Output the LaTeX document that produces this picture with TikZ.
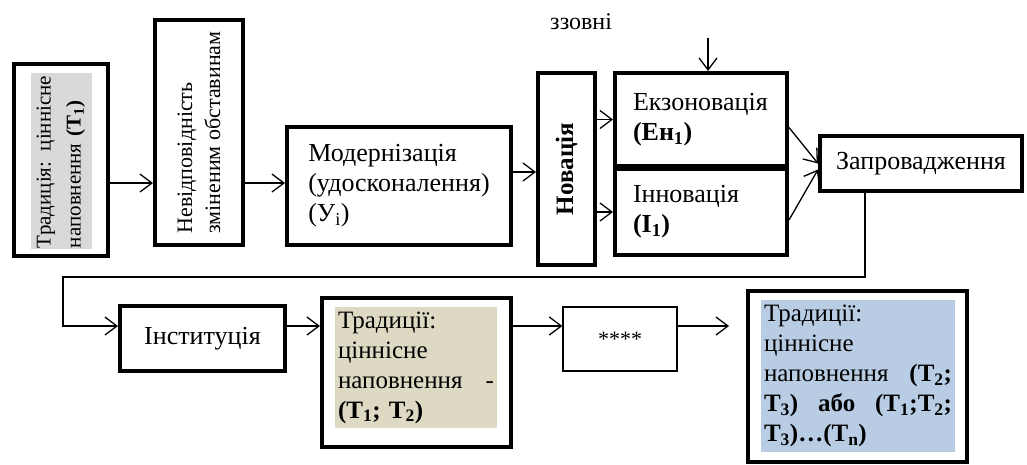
\documentclass[tikz,border=0pt]{standalone}
\usepackage{fontspec}
\setmainfont{Liberation Serif}
\usetikzlibrary{arrows.meta}

\begin{document}
\begin{tikzpicture}[x=1pt, y=-1pt,
    box/.style={draw, line width=4pt, inner sep=0pt},
    txt/.style={font=\fontsize{26}{30}\selectfont},
    arr/.style={line width=1.3pt, -{Straight Barb[length=12pt, width=18pt]}}]
    % Define colors
    \definecolor{tradgray}{RGB}{217, 217, 217}
    \definecolor{tradbeige}{RGB}{221, 217, 195}
    \definecolor{tradblue}{RGB}{184, 204, 228}

    \useasboundingbox (0, 0) rectangle (1027, 464);

    % Upper row
    \node[box, minimum width=94, minimum height=192] (trad) at (61, 160) {};
    \node[fill=tradgray, rotate=90, align=left, text width=174, inner sep=1pt, minimum height=61,
        font=\fontsize{21}{30}\selectfont] (tradtxt) at (61, 161)
        {Традиція: ціннісне\\наповнення \textbf{(T\textsubscript{1})}};

    \node[box, minimum width=88, minimum height=225] (nevid) at (199, 132.5) {};
    \node[rotate=90, align=left, font=\fontsize{22}{28}\selectfont] (nevidtxt) at (199, 132.5)
        {Невідповідність\\зміненим обставинам};

    \node[box, txt, minimum width=224, minimum height=118, align=left] (modern) at (399, 186)
        {Модернізація\\(удосконалення)\\(У\textsubscript{i})};

    \node[box, minimum width=57, minimum height=192] (novac) at (566.5, 169) {};
    \node[rotate=90, font=\fontsize{25}{30}\selectfont\bfseries] (novactxt) at (566.5, 169) {Новація};

    \node[box, txt, minimum width=172, minimum height=93, text width=136, align=left] (ekzo) at (701, 119.5)
        {Екзоновація\\\textbf{(Ен\textsubscript{1})}};
    \node[box, txt, minimum width=172, minimum height=86, text width=136, align=left] (innov) at (701, 212)
        {Інновація\\\textbf{(I\textsubscript{1})}};

    \node[box, txt, minimum width=202, minimum height=55] (zapr) at (921, 163.5) {Запровадження};

    % Input from outside
    \node[font=\fontsize{24}{28}\selectfont] (zzovni) at (581, 22) {ззовні};
    \coordinate (zzarr) at (708, 38);

    % Lower row
    \node[box, txt, minimum width=165, minimum height=65] (instit) at (202.5, 338.5) {Інституція};

    \node[box, minimum width=189, minimum height=149] (tradb) at (416.5, 372.5) {};
    \node[fill=tradbeige, text width=156, inner sep=3pt, minimum height=121, align=left,
        font=\fontsize{25}{30}\selectfont] (tradbtxt) at (416, 367.5)
        {Традиції:\\ціннісне\\наповнення\hfill-\\\textbf{(T\textsubscript{1}; T\textsubscript{2})}};

    \node[draw, line width=1.3pt, minimum width=114, minimum height=64, font=\fontsize{22}{26}\selectfont] (stars) at (620, 339) {\raisebox{-5pt}{****}};

    \node[box, minimum width=219, minimum height=171] (tradc) at (857.5, 376.5) {};
    \node[fill=tradblue, text width=188, inner sep=3pt, minimum height=152, align=left,
        font=\fontsize{25}{30}\selectfont] (tradctxt) at (858, 376)
        {Традиції:\\ціннісне\\наповнення\hfill\textbf{(T\textsubscript{2};}\\
        \textbf{T\textsubscript{3})}\hfill\textbf{або}\hfill\textbf{(T\textsubscript{1};T\textsubscript{2};}\\
        \textbf{T\textsubscript{3})…(T\textsubscript{n})}};

    % Connectors
    \coordinate (row1) at (0, 183);
    \coordinate (row2) at (0, 326);
    \coordinate (loop) at (63, 277);

    \draw[arr] (trad.east |- row1) -- (nevid.west |- row1);
    \draw[arr] (nevid.east |- row1) -- (modern.west |- row1);
    \draw[arr] ([yshift=14pt]modern.east) -- ([yshift=14pt]modern.east -| novac.west);
    \draw[arr] (novac.east |- ekzo.west) -- (ekzo.west);
    \draw[arr] (novac.east |- innov.west) -- (innov.west);
    \draw[arr] (zzarr) -- (zzarr |- ekzo.north);
    \draw[arr] ([yshift=-8pt]ekzo.east) -- (zapr.west);
    \draw[arr] ([yshift=-8pt]innov.east) -- ([yshift=-6pt]zapr.west);

    \draw[arr] ([xshift=-56pt]zapr.south) |- (loop) |- (instit.west |- row2);
    \draw[arr] (instit.east |- row2) -- (tradb.west |- row2);
    \draw[arr] (tradb.east |- row2) -- (stars.west |- row2);
    \draw[arr, shorten >=17pt] (stars.east |- row2) -- (tradc.west |- row2);
\end{tikzpicture}
\end{document}
